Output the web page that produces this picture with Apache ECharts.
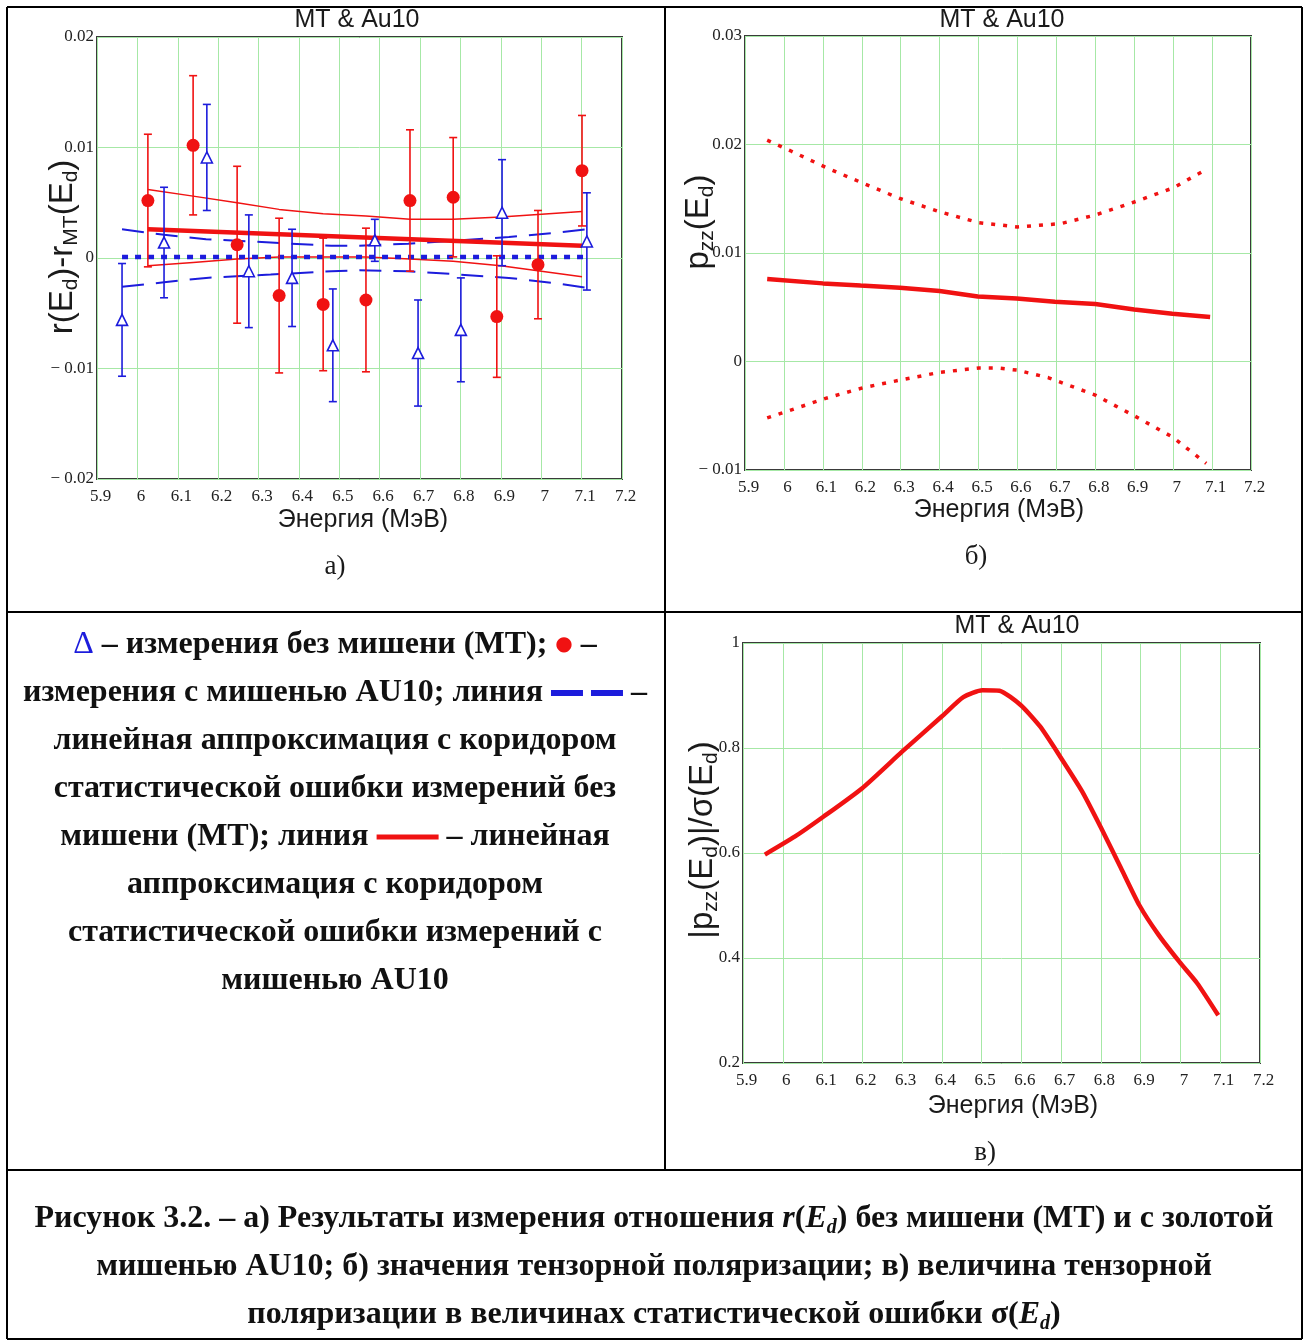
<!DOCTYPE html>
<html><head><meta charset="utf-8">
<script src="https://cdn.jsdelivr.net/npm/echarts@6/dist/echarts.min.js"></script>
<style>html,body{margin:0;padding:0;background:#fff}#c{width:1309px;height:1341px}</style>
</head><body><div id="c"></div>
<script>
// ---------------- DATA ----------------
const X_TICKS = ['5.9','6','6.1','6.2','6.3','6.4','6.5','6.6','6.7','6.8','6.9','7','7.1','7.2'];
const Y_TICKS_A = ['− 0.02','− 0.01','0','0.01','0.02'];
const Y_TICKS_B = ['− 0.01','0','0.01','0.02','0.03'];
const Y_TICKS_C = ['0.2','0.4','0.6','0.8','1'];

// (a) measurements without target (MT) — blue triangles
const E_MT   = [5.962, 6.066, 6.172, 6.276, 6.383, 6.484, 6.588, 6.695, 6.801, 6.903, 7.113];
const R_MT   = [-0.0056, 0.0014, 0.0091, -0.0012, -0.0018, -0.0079, 0.0016, -0.0086, -0.0065, 0.0041, 0.0015];
const ERR_MT = [0.0051, 0.0050, 0.0048, 0.0051, 0.0044, 0.0051, 0.0019, 0.0048, 0.0047, 0.0048, 0.0044];
// (a) measurements with AU10 target — red circles
const E_AU   = [6.026, 6.138, 6.247, 6.351, 6.460, 6.566, 6.675, 6.782, 6.890, 6.992, 7.101];
const R_AU   = [0.0052, 0.0102, 0.0012, -0.0034, -0.0042, -0.0038, 0.0052, 0.0055, -0.0053, -0.0006, 0.0079];
const ERR_AU = [0.0060, 0.0063, 0.0071, 0.0070, 0.0060, 0.0065, 0.0064, 0.0054, 0.0055, 0.0049, 0.0050];
// (a) MT linear fit and corridor
const FIT_MT_X = [5.962, 7.113];
const FIT_MT_Y = [0.0001, 0.0001];
const COR_MT_X  = [5.962, 6.066, 6.17, 6.33, 6.48, 6.55, 6.67, 6.80, 6.92, 7.04, 7.113];
const COR_MT_UP = [0.0026, 0.0021, 0.0017, 0.0014, 0.0011, 0.0011, 0.0013, 0.0016, 0.0019, 0.0023, 0.0026];
const COR_MT_LO = [-0.0026, -0.0022, -0.0018, -0.0015, -0.0012, -0.0011, -0.0012, -0.0015, -0.0018, -0.0023, -0.0027];
// (a) AU10 linear fit and corridor
const FIT_AU_X = [6.026, 7.101];
const FIT_AU_Y = [0.0026, 0.0011];
const COR_AU_X  = [6.026, 6.138, 6.247, 6.351, 6.46, 6.566, 6.675, 6.782, 6.9, 7.101];
const COR_AU_UP = [0.0062, 0.0056, 0.0050, 0.0044, 0.0040, 0.0038, 0.0035, 0.0035, 0.0037, 0.0042];
const COR_AU_LO = [-0.0007, -0.0004, -0.0001, 0.0001, 0.0001, 0.0001, -0.0001, -0.0003, -0.0007, -0.0017];

// (b) tensor polarization
const PZZ_X = [5.957, 6.10, 6.197, 6.298, 6.40, 6.498, 6.598, 6.696, 6.80, 6.90, 6.998, 7.095];
const PZZ_Y = [0.0076, 0.0072, 0.0070, 0.0068, 0.0065, 0.0060, 0.0058, 0.0055, 0.0053, 0.0048, 0.0044, 0.0041];
const PZZ_UP_X = [5.957, 6.018, 6.107, 6.205, 6.30, 6.40, 6.50, 6.60, 6.71, 6.80, 6.90, 7.00, 7.085];
const PZZ_UP_Y = [0.0204, 0.0194, 0.0179, 0.0164, 0.0150, 0.0138, 0.0128, 0.0124, 0.0127, 0.0135, 0.0147, 0.0160, 0.0177];
const PZZ_LO_X = [5.957, 6.107, 6.205, 6.30, 6.40, 6.50, 6.55, 6.60, 6.68, 6.80, 6.90, 7.00, 7.085];
const PZZ_LO_Y = [-0.0052, -0.0034, -0.0024, -0.0017, -0.0010, -0.0006, -0.0006, -0.0008, -0.0015, -0.0031, -0.0050, -0.0070, -0.0094];

// (c) |pzz| / sigma
const SIG_X = [5.955, 6.03, 6.102, 6.199, 6.30, 6.401, 6.454, 6.502, 6.545, 6.598, 6.647, 6.698, 6.753, 6.799, 6.85, 6.897, 6.945, 6.998, 7.042, 7.095];
const SIG_Y = [0.597, 0.631, 0.669, 0.723, 0.793, 0.861, 0.897, 0.910, 0.909, 0.882, 0.841, 0.783, 0.717, 0.650, 0.572, 0.500, 0.444, 0.392, 0.352, 0.291];

// ---------------- STYLE ----------------
const RED = '#f01212', BLUE = '#1c1cdc', GRIDC = '#a6e8a6', FRAME = '#3a3a3a';
const SANS = '"Liberation Sans", Arial, sans-serif';
const SERIF = '"Liberation Serif", "Times New Roman", serif';
const zip = (xs, ys) => xs.map((x, i) => [x, ys[i]]);

function xAxis(gi) {
  return {
    type: 'value', gridIndex: gi, min: 5.9, max: 7.2, interval: 0.1,
    axisLine: {show: false}, axisTick: {show: false},
    splitLine: {show: true, lineStyle: {color: GRIDC, width: 1}},
    axisLabel: {
      fontFamily: SERIF, fontSize: 17, color: '#222', margin: 9, padding: [0, 0, 0, 7],
      formatter: v => X_TICKS[Math.round((v - 5.9) / 0.1)]
    }
  };
}
function yAxis(gi, min, max, interval, labels) {
  return {
    type: 'value', gridIndex: gi, min, max, interval,
    axisLine: {show: false}, axisTick: {show: false},
    splitLine: {show: true, lineStyle: {color: GRIDC, width: 1}},
    axisLabel: {
      fontFamily: SERIF, fontSize: 17, color: '#222', margin: 3, padding: [7, 0, 0, 0],
      formatter: v => labels[Math.round((v - min) / interval)]
    }
  };
}
function grid(left, top, width, height) {
  return {left, top, width, height, show: true, borderColor: FRAME, borderWidth: 2,
    backgroundColor: 'transparent', containLabel: false, outerBoundsMode: 'none'};
}
function lineS(gi, data, color, width, type, z) {
  return {type: 'line', xAxisIndex: gi, yAxisIndex: gi, data, symbol: 'none', silent: true,
    lineStyle: {color, width, type: type || 'solid'}, z: z || 2, animation: false};
}
function errS(xs, ys, es, color) {
  return {
    type: 'custom', xAxisIndex: 0, yAxisIndex: 0, z: 4, silent: true, animation: false,
    data: xs.map((x, i) => [x, ys[i] - es[i], ys[i] + es[i]]),
    encode: {x: 0, y: [1, 2]},
    renderItem: (params, api) => {
      const lo = api.coord([api.value(0), api.value(1)]);
      const hi = api.coord([api.value(0), api.value(2)]);
      const c = 4, st = {stroke: color, lineWidth: 1.6};
      return {type: 'group', children: [
        {type: 'line', shape: {x1: lo[0], y1: lo[1], x2: hi[0], y2: hi[1]}, style: st},
        {type: 'line', shape: {x1: lo[0] - c, y1: lo[1], x2: lo[0] + c, y2: lo[1]}, style: st},
        {type: 'line', shape: {x1: hi[0] - c, y1: hi[1], x2: hi[0] + c, y2: hi[1]}, style: st}
      ]};
    }
  };
}

// ---------------- GRAPHICS (table, text) ----------------
function hl(x1, x2, y) { return {type: 'line', shape: {x1, y1: y, x2, y2: y}, style: {stroke: '#000', lineWidth: 2}, z: 50}; }
function vl(x, y1, y2) { return {type: 'line', shape: {x1: x, y1, x2: x, y2}, style: {stroke: '#000', lineWidth: 2}, z: 50}; }
function txt(x, y, text, size, family, extra) {
  return {type: 'text', x, y, z: 60, silent: true,
    style: Object.assign({text, fontSize: size, fontFamily: family, fill: '#1a1a1a',
      align: 'center', verticalAlign: 'middle', textAlign: 'center', textVerticalAlign: 'middle'}, extra || {})};
}
function rt(x, y, text, rich, rotation) {
  const el = {type: 'text', x, y, z: 60, silent: true,
    style: {text, rich, align: 'center', verticalAlign: 'middle', textAlign: 'center', textVerticalAlign: 'middle'}};
  if (rotation) el.rotation = rotation;
  return el;
}
const axRich = {
  m: {fontFamily: SANS, fontSize: 33, fill: '#1a1a1a', lineHeight: 38},
  s: {fontFamily: SANS, fontSize: 21, fill: '#1a1a1a', verticalAlign: 'bottom', lineHeight: 38}
};
const B = {fontFamily: SERIF, fontWeight: 'bold', fontSize: 32, fill: '#111'};
const legRich = {
  b: B,
  t: {fontFamily: SERIF, fontSize: 32, fill: BLUE},
  d: {fontFamily: 'DejaVu Sans', fontSize: 20, fill: RED},
  bd: {width: 32, height: 6, backgroundColor: BLUE},
  g: {width: 8, height: 6},
  rl: {width: 62, height: 5, backgroundColor: RED}
};
const capRich = {
  b: B,
  i: {fontFamily: SERIF, fontWeight: 'bold', fontStyle: 'italic', fontSize: 32, fill: '#111', lineHeight: 38},
  s: {fontFamily: SERIF, fontWeight: 'bold', fontStyle: 'italic', fontSize: 20, fill: '#111', verticalAlign: 'bottom', lineHeight: 38}
};

const graphics = [
  hl(7, 1302, 7), hl(7, 1302, 612), hl(7, 1302, 1170), hl(7, 1302, 1339),
  vl(7, 7, 1339), vl(1302, 7, 1339), vl(665, 7, 1170),
  txt(357, 20, 'MT & Au10', 25, SANS),
  txt(1002, 20, 'MT & Au10', 25, SANS),
  txt(1017, 626, 'MT & Au10', 25, SANS),
  txt(363, 520, 'Энергия (МэВ)', 25, SANS),
  txt(999, 510, 'Энергия (МэВ)', 25, SANS),
  txt(1013, 1106, 'Энергия (МэВ)', 25, SANS),
  txt(335, 567, 'а)', 27, SERIF),
  txt(976, 557, 'б)', 27, SERIF),
  txt(985, 1153, 'в)', 27, SERIF),
  rt(63, 247, '{m|r(E}{s|d}{m|)-r}{s|MT}{m|(E}{s|d}{m|)}', axRich, Math.PI / 2),
  rt(699, 222, '{m|p}{s|zz}{m|(E}{s|d}{m|)}', axRich, Math.PI / 2),
  rt(703, 840, '{m||p}{s|zz}{m|(E}{s|d}{m|)|/σ(E}{s|d}{m|)}', axRich, Math.PI / 2),
  rt(335, 645, '{t|Δ}{b| – измерения без мишени (МТ); }{d|●}{b| –}', legRich),
  rt(335, 693, '{b|измерения с мишенью AU10; линия }{bd| }{g| }{bd| }{b| –}', legRich),
  rt(335, 741, '{b|линейная аппроксимация с коридором}', legRich),
  rt(335, 789, '{b|статистической ошибки измерений без}', legRich),
  rt(335, 837, '{b|мишени (МТ); линия }{rl| }{b| – линейная}', legRich),
  rt(335, 885, '{b|аппроксимация с коридором}', legRich),
  rt(335, 933, '{b|статистической ошибки измерений с}', legRich),
  rt(335, 981, '{b|мишенью AU10}', legRich),
  rt(654, 1219, '{b|Рисунок 3.2. – а) Результаты измерения отношения }{i|r}{b|(}{i|E}{s|d}{b|) без мишени (МТ) и с золотой}', capRich),
  rt(654, 1267, '{b|мишенью AU10; б) значения тензорной поляризации; в) величина тензорной}', capRich),
  rt(654, 1315, '{b|поляризации в величинах статистической ошибки σ(}{i|E}{s|d}{b|)}', capRich)
];

// ---------------- CHART ----------------
const chart = echarts.init(document.getElementById('c'), null, {renderer: 'canvas'});
chart.setOption({
  animation: false,
  backgroundColor: '#fff',
  grid: [grid(97, 37, 525, 442), grid(745, 36, 506, 434), grid(743, 643, 517, 420)],
  xAxis: [xAxis(0), xAxis(1), xAxis(2)],
  yAxis: [
    yAxis(0, -0.02, 0.02, 0.01, Y_TICKS_A),
    yAxis(1, -0.01, 0.03, 0.01, Y_TICKS_B),
    yAxis(2, 0.2, 1, 0.2, Y_TICKS_C)
  ],
  series: [
    lineS(0, zip(COR_MT_X, COR_MT_UP), BLUE, 2, [22, 12], 2),
    lineS(0, zip(COR_MT_X, COR_MT_LO), BLUE, 2, [22, 12], 2),
    lineS(0, zip(FIT_MT_X, FIT_MT_Y), BLUE, 4.5, [6, 7], 3),
    lineS(0, zip(COR_AU_X, COR_AU_UP), RED, 1.5, 'solid', 2),
    lineS(0, zip(COR_AU_X, COR_AU_LO), RED, 1.5, 'solid', 2),
    lineS(0, zip(FIT_AU_X, FIT_AU_Y), RED, 4.5, 'solid', 3),
    errS(E_AU, R_AU, ERR_AU, RED),
    errS(E_MT, R_MT, ERR_MT, BLUE),
    {type: 'scatter', xAxisIndex: 0, yAxisIndex: 0, data: zip(E_AU, R_AU), symbol: 'circle', symbolSize: 13,
      itemStyle: {color: RED, opacity: 1}, z: 6, silent: true, animation: false},
    {type: 'scatter', xAxisIndex: 0, yAxisIndex: 0, data: zip(E_MT, R_MT), symbol: 'triangle', symbolSize: [11, 11],
      itemStyle: {color: '#fff', borderColor: BLUE, borderWidth: 1.6, opacity: 1}, z: 6, silent: true, animation: false},
    lineS(1, zip(PZZ_X, PZZ_Y), RED, 4.5, 'solid', 3),
    lineS(1, zip(PZZ_UP_X, PZZ_UP_Y), RED, 3.5, [4, 8], 3),
    lineS(1, zip(PZZ_LO_X, PZZ_LO_Y), RED, 3.5, [4, 8], 3),
    Object.assign(lineS(2, zip(SIG_X, SIG_Y), RED, 4.5, 'solid', 3), {smooth: 0.2})
  ],
  graphic: {elements: graphics}
});
</script></body></html>
